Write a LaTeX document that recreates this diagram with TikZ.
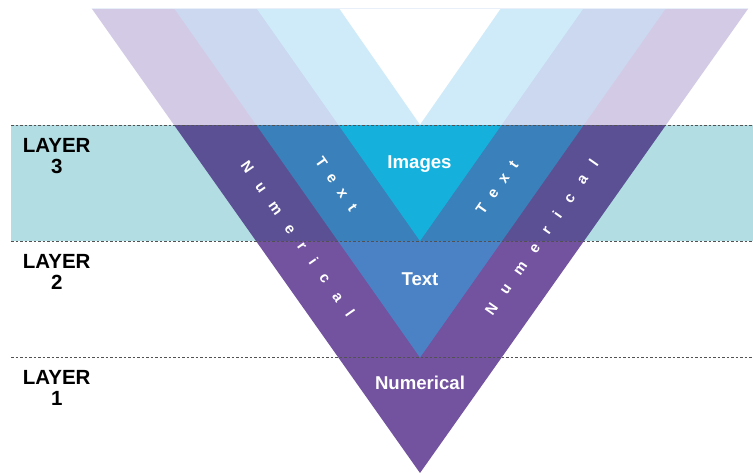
\documentclass[tikz,border=0pt]{standalone}
\usepackage{fontspec}
\setmainfont{Liberation Sans}

% palette
\definecolor{bandteal}{HTML}{B2DEE3}
\definecolor{numpale}{HTML}{D3CBE6}
\definecolor{txtpale}{HTML}{CBD8F0}
\definecolor{imgpale}{HTML}{CFEBF9}
\definecolor{numdeep}{HTML}{5C5094}
\definecolor{txtdeep}{HTML}{3A80BA}
\definecolor{imgdeep}{HTML}{15B1DC}
\definecolor{numbase}{HTML}{7352A0}
\definecolor{txtbase}{HTML}{4B82C6}
\definecolor{dashgray}{HTML}{525252}
\definecolor{seam}{HTML}{E9EFF8}

% tracking inside the slanted labels
\newlength\numgap \setlength\numgap{14.2pt}
\newlength\txtgap \setlength\txtgap{10.3pt}
\newcommand\numsp{\kern\numgap}
\newcommand\txtsp{\kern\txtgap}

\begin{document}
\begin{tikzpicture}[x=1pt,y=-1pt,
  layerlbl/.style={font=\bfseries\fontsize{20.5}{24}\selectfont, text=black, inner sep=0pt, anchor=base},
  vlabel/.style={font=\bfseries\fontsize{18.6}{22}\selectfont, text=white, inner sep=0pt, anchor=base},
  slant/.style={font=\bfseries\fontsize{15}{18}\selectfont, text=white, inner sep=0pt, anchor=center},
  divider/.style={draw=dashgray, line width=1pt, dash pattern=on 2.6pt off 1.9pt},
  topseam/.style={draw=seam, line width=0.8pt}
]
\useasboundingbox (0,0) rectangle (753,472);

% the four nested V shapes (outer edge at the top, apex on the axis x=420)
\def\numV{(91.7,8.5) -- (420,473) -- (748.3,8.5) -- cycle}
\def\txtV{(174.3,8.5) -- (420,357.5) -- (665.7,8.5) -- cycle}
\def\imgV{(256.7,8.5) -- (420,241) -- (583.3,8.5) -- cycle}
\def\voidV{(339.3,8.5) -- (420,124.5) -- (500.7,8.5) -- cycle}

% above layer 3: pale tints
\begin{scope}
  \clip (0,0) rectangle (753,125);
  \fill[numpale] \numV;
  \fill[txtpale] \txtV;
  \fill[imgpale] \imgV;
  \fill[white] \voidV;
\end{scope}
\draw[topseam] (91.7,8.5) -- (748.3,8.5);

% layer 3 band
\begin{scope}
  \clip (0,125) rectangle (753,241);
  \fill[bandteal] (11,125) rectangle (753,241);
  \fill[numdeep] \numV;
  \fill[txtdeep] \txtV;
  \fill[imgdeep] \imgV;
\end{scope}

% layers 2 and 1
\begin{scope}
  \clip (0,241) rectangle (753,472);
  \fill[numbase] \numV;
  \fill[txtbase] \txtV;
\end{scope}

% layer boundaries
\draw[divider] (11,125) -- (753,125);
\draw[divider] (11,241) -- (753,241);
\draw[divider] (11,357.5) -- (753,357.5);

% layer names
\node[layerlbl] (l3a) at (56.7,152) {LAYER};
\node[layerlbl] (l3b) at (56.7,173.5) {3};
\node[layerlbl] (l2a) at (56.7,268) {LAYER};
\node[layerlbl] (l2b) at (56.7,289.5) {2};
\node[layerlbl] (l1a) at (56.7,384) {LAYER};
\node[layerlbl] (l1b) at (56.7,405) {1};

% labels on the axis
\node[vlabel] (img) at (419.5,168) {Images};
\node[vlabel] (txt) at (420,285) {Text};
\node[vlabel] (num) at (420,389) {Numerical};

% labels along the arms
\node[slant, rotate=-55] (numL) at (298,239) {N\numsp u\numsp m\numsp e\numsp r\numsp i\numsp c\numsp a\numsp l};
\node[slant, rotate=-55] (txtL) at (336.5,184) {T\txtsp e\txtsp x\txtsp t};
\node[slant, rotate=55] (txtR) at (497,187.5) {T\txtsp e\txtsp x\txtsp t};
\node[slant, rotate=55] (numR) at (541.5,237) {N\numsp u\numsp m\numsp e\numsp r\numsp i\numsp c\numsp a\numsp l};
\end{tikzpicture}
\end{document}
